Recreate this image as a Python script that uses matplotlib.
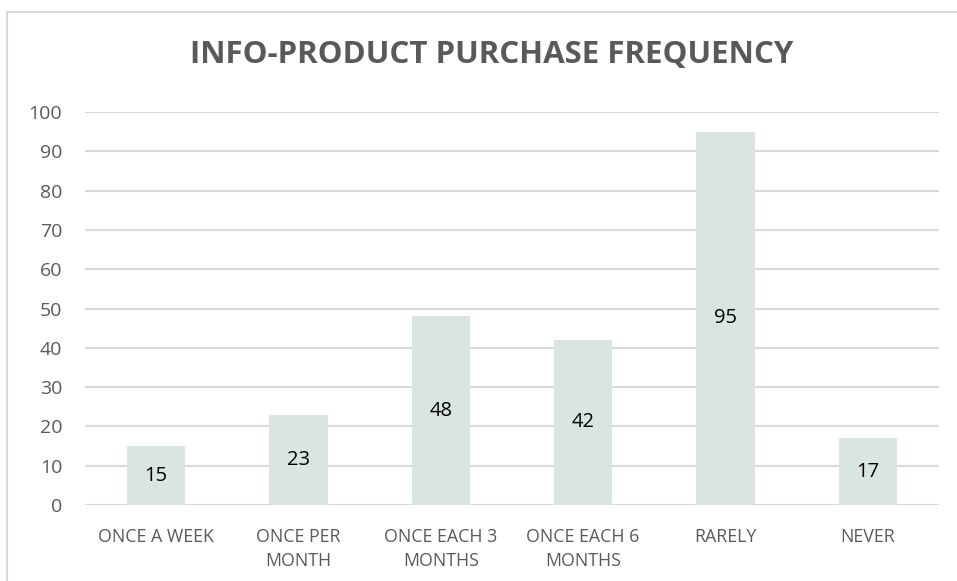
import matplotlib
matplotlib.use("Agg")
from matplotlib import pyplot as plt
from matplotlib.patches import Rectangle

# Survey results
categories = ["ONCE A WEEK", "ONCE PER\nMONTH", "ONCE EACH 3\nMONTHS",
              "ONCE EACH 6\nMONTHS", "RARELY", "NEVER"]
counts = [15, 23, 48, 42, 95, 17]
y_ticks = [0, 10, 20, 30, 40, 50, 60, 70, 80, 90, 100]

plt.rcParams['font.family'] = ['Open Sans', 'DejaVu Sans']

fig = plt.figure(figsize=(9.57, 5.81), dpi=100)
W, H = 957, 581

# Chart frame (open on the right and bottom)
fig.patches.append(Rectangle((7.5 / W, -0.1), 1.2, 1.1 - 11.5 / H, transform=fig.transFigure,
                             fill=False, edgecolor='#D9D9D9', linewidth=1.5))

ax = fig.add_axes([85 / W, 1 - 505 / H, (939 - 85) / W, (505 - 112) / H])
x = range(len(categories))
ax.bar(x, counts, width=0.41, color='#D9E5E3', zorder=2)

for i, v in enumerate(counts):
    ax.text(i, v / 2, str(v), ha='center', va='center', fontsize=14.5, color='black', zorder=3)

ax.set_xlim(-0.5, len(categories) - 0.5)
ax.set_ylim(0, 100)
ax.set_yticks(y_ticks)
ax.set_xticks(list(x))
ax.set_xticklabels(categories, fontsize=12.8, color='#595959', linespacing=1.4)
ax.tick_params(axis='y', labelsize=14, colors='#595959', length=0, pad=16.5)
ax.tick_params(axis='x', length=0, pad=16.5)
ax.grid(axis='y', color='#D9D9D9', linewidth=1.5, zorder=0)
for s in ax.spines.values():
    s.set_visible(False)

fig.text(492 / W, 1 - 55 / H, "INFO-PRODUCT PURCHASE FREQUENCY", ha='center', va='center',
         fontsize=22.5, fontweight='bold', color='#595959')

fig.savefig("out.png", dpi=100)
